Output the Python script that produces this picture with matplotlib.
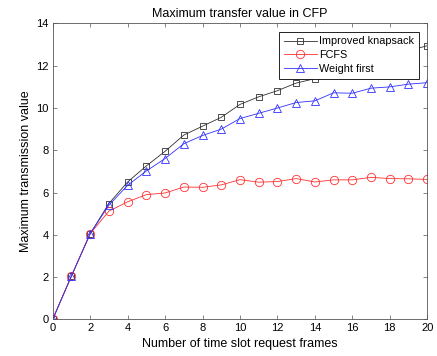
import numpy as np
import matplotlib.pyplot as plt

plt.rcParams['font.family'] = ['Liberation Sans', 'DejaVu Sans']

frames = np.arange(0, 21)
knapsack = [0, 2.05, 4.05, 5.48, 6.5, 7.26, 7.95, 8.72, 9.14, 9.56, 10.17,
            10.53, 10.82, 11.18, 11.39, 11.7, 12.0, 12.25, 12.5, 12.7, 12.95]
fcfs = [0, 2.05, 4.05, 5.12, 5.56, 5.9, 5.98, 6.26, 6.25, 6.36, 6.61,
        6.49, 6.52, 6.66, 6.5, 6.6, 6.6, 6.72, 6.66, 6.65, 6.62]
weight = [0, 2.05, 4.05, 5.4, 6.34, 7.02, 7.61, 8.31, 8.7, 9.0, 9.5,
          9.75, 10.0, 10.26, 10.34, 10.72, 10.7, 10.94, 11.0, 11.13, 11.2]

fig = plt.figure(figsize=(4.37, 3.56), dpi=100)
ax = fig.add_axes([0.1206, 0.103, 0.857, 0.831])

ax.plot(frames, knapsack, color='#303030', lw=0.6, marker='s', ms=5,
        mfc='none', mew=0.6, label='Improved knapsack')
ax.plot(frames, fcfs, color='#ff3030', lw=0.6, marker='o', ms=6,
        mfc='none', mew=0.6, label='FCFS')
ax.plot(frames, weight, color='#3030ff', lw=0.6, marker='^', ms=6,
        mfc='none', mew=0.6, label='Weight first')

ax.set_xlim(0, 20)
ax.set_ylim(0, 14)
ax.set_xticks(range(0, 21, 2))
ax.set_yticks(range(0, 15, 2))
ax.tick_params(direction='in', top=True, right=True, labelsize=8, length=3,
               width=0.5, color='#555555', pad=3)
for s in ax.spines.values():
    s.set_linewidth(0.6)
    s.set_color('#555555')

ax.set_title('Maximum transfer value in CFP', fontsize=9, pad=5)
ax.set_xlabel('Number of time slot request frames', fontsize=9, labelpad=3)
ax.set_ylabel('Maximum transmission value', fontsize=9, labelpad=3)

leg = ax.legend(loc='upper right', fontsize=7.8, fancybox=False, framealpha=1,
                edgecolor='black', borderpad=0.45, labelspacing=0.35,
                handlelength=3.0, handletextpad=0.25, borderaxespad=0.75)
leg.get_frame().set_linewidth(0.6)

fig.savefig('out.png', dpi=100)
